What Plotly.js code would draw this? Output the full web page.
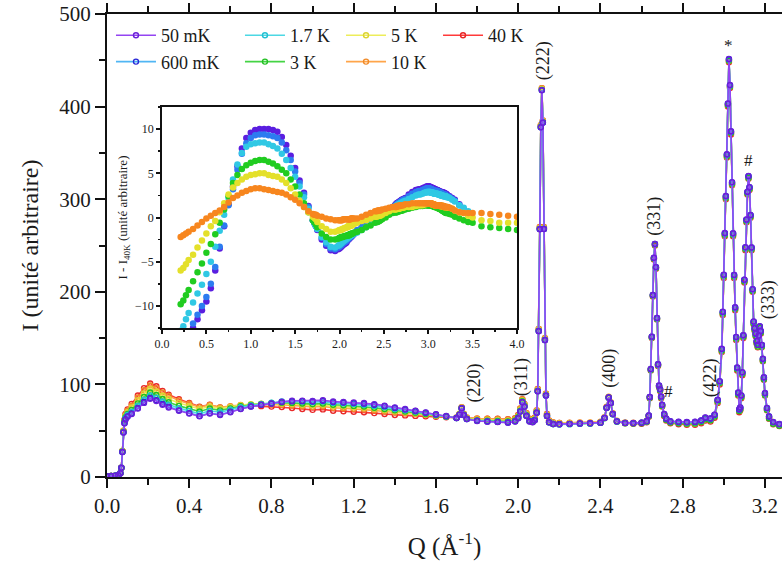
<!DOCTYPE html>
<html><head><meta charset="utf-8">
<script src="https://cdn.plot.ly/plotly-3.0.1.min.js"></script>
<style>html,body{margin:0;padding:0;background:#fff}#chart{width:782px;height:570px}</style>
</head><body><div id="chart"></div>
<script>
// Q grid (Å^-1)
const Q = [0,0.02,0.04,0.055,0.065,0.07,0.075,0.08,0.085,0.09,
0.10,0.12,0.15,0.18,0.21,0.24,0.27,0.30,
0.35,0.40,0.45,0.50,0.55,0.60,0.65,0.70,0.75,
0.80,0.85,0.90,0.95,1.00,1.05,1.10,1.15,1.20,1.25,1.30,1.35,1.40,1.45,1.50,1.55,1.60,1.65,
1.70,1.715,1.725,1.735,1.75,1.80,1.85,1.90,1.95,1.985,
2.00,2.01,2.02,2.03,2.04,2.055,2.07,2.08,2.09,
2.095,2.10,2.105,2.11,2.115,2.12,2.125,2.13,2.135,2.14,2.15,
2.17,2.20,2.25,2.30,2.35,2.40,
2.42,2.43,2.44,2.45,2.46,2.48,
2.52,2.56,2.60,2.625,
2.635,2.64,2.645,2.65,2.655,2.66,2.665,2.67,2.675,2.68,2.685,2.69,2.695,2.70,2.71,2.72,
2.74,2.78,2.82,2.86,2.89,2.91,2.935,2.955,2.97,
2.98,2.99,2.995,3.00,3.005,3.01,3.015,3.02,3.025,3.03,3.035,3.04,3.045,3.05,3.055,3.06,3.065,3.07,3.075,3.08,3.085,3.09,3.095,
3.10,3.105,3.11,3.115,3.12,3.125,3.13,3.135,3.14,3.145,3.15,3.155,3.16,3.165,3.17,3.175,3.18,3.185,3.19,3.195,3.20,3.21,3.22,
3.24,3.27,3.30,3.35,3.40,3.45,
3.50,3.60,3.70,3.80,3.90,4.00];

// Intensity at 40 K (unité arbitraire)
const I40K = [0.5,1,1.5,2,4,10,28,50,62,68,
73,79,88,96,101,98,93,89,
84,80,76,78,75,76,77,77,76.5,
76,75.5,74.5,73.5,72.5,73,71.5,71,70.5,70,69,68,67,66.5,66,65.5,65,64.5,
64,68,75,68,64,63,63,63,62.5,63.5,
67,74,84,79,69,63,62,64,72,
95,160,270,380,420,385,270,150,90,68,61,
59,58.5,58.5,58.5,58.5,59,
64,75,86,80,68,60,
58,57.5,57.5,59,
65,85,115,150,195,235,250,225,170,120,97,93,85,76,66,61,
58,57,56.5,56.5,58,61,60,64,80,
100,135,175,215,260,300,345,400,448,420,370,315,260,215,180,148,115,88,70,72,85,110,150,
210,245,275,305,322,310,280,245,200,165,158,152,144,140,150,160,155,140,125,105,88,72,63,
57,55,54,54,53,53,
52,52,51,51,50,50];

// Differences I - I40K for each temperature (null = no data)
const d50mK = [0,0,0,0,0,0,-1,-2,-4,-6,
-8,-11,-14,-16,-16.5,-16,-15,-14,
-12.5,-11.5,-10.5,-9.5,-8,-6,-3.5,-1,1.5,
3.5,5.8,7.8,9,9.6,9.9,10,10,10,9.9,9.7,9.1,8.2,7,5.6,4.2,2.8,1.3,
-0.3,-0.6,-0.8,-1,-1.4,-2.5,-3.2,-3.7,-3.8,-3.6,
-3.5,-3.4,-3.3,-3.2,-3.1,-3,-2.9,-2.8,-2.6,
-2.5,-2.5,-2.4,-2.4,-2.3,-2.3,-2.2,-2.2,-2.1,-2.1,-2,
-1.8,-1.5,-1.1,-0.8,-0.5,-0.3,
-0.2,-0.1,-0.1,0,0,0.1,
0.4,0.8,1.2,1.4,
1.5,1.5,1.6,1.6,1.6,1.7,1.7,1.7,1.8,1.8,1.8,1.9,1.9,2,2,2.1,
2.2,2.6,2.9,3.1,3.2,3.2,3.3,3.4,3.4,
3.5,3.5,3.5,3.5,3.5,3.5,3.5,3.4,3.4,3.4,3.4,3.4,3.3,3.3,3.3,3.3,3.2,3.2,3.2,3.2,3.1,3.1,3.1,
3.1,3.1,3,3,3,3,2.9,2.9,2.9,2.9,2.9,2.9,2.8,2.8,2.8,2.8,2.8,2.7,2.7,2.7,2.7,2.6,2.5,
2.4,2.2,2,1.5,0.9,0.4,
null,null,null,null,null,null];

const d600mK = [0,0,0,0,0,0,-1,-2,-4,-5.5,
-7.5,-10.5,-13.5,-15,-15.5,-15,-14,-13,
-12,-11,-10,-9,-7.5,-5.6,-3.3,-0.9,1.4,
3.2,5.4,7.2,8.4,9,9.3,9.4,9.4,9.3,9.2,9,8.5,7.6,6.5,5.2,3.9,2.6,1.2,
-0.3,-0.6,-0.8,-1,-1.3,-2.3,-3,-3.5,-3.6,-3.4,
-3.3,-3.2,-3.1,-3,-2.9,-2.8,-2.7,-2.6,-2.5,
-2.4,-2.4,-2.3,-2.3,-2.2,-2.2,-2.1,-2.1,-2,-2,-1.9,
-1.7,-1.4,-1.1,-0.8,-0.5,-0.3,
-0.2,-0.1,-0.1,0,0,0.1,
0.4,0.7,1.1,1.3,
1.4,1.4,1.5,1.5,1.5,1.6,1.6,1.6,1.7,1.7,1.7,1.8,1.8,1.9,1.9,2,
2.1,2.4,2.7,2.9,3,3,3.1,3.2,3.2,
3.3,3.3,3.3,3.3,3.3,3.3,3.3,3.2,3.2,3.2,3.2,3.2,3.1,3.1,3.1,3.1,3,3,3,3,3,3,3,
3,3,2.9,2.9,2.9,2.9,2.8,2.8,2.8,2.8,2.7,2.7,2.7,2.7,2.6,2.6,2.6,2.6,2.6,2.5,2.5,2.4,2.4,
2.3,2.1,1.9,1.4,0.8,0.3,
null,null,null,null,null,null];

const d1p7K = [0,0,0,0,0,0,-1,-1.5,-3,-4.5,
-6,-8.5,-11,-12.5,-12.8,-12.3,-11.5,-10.8,
-9.6,-8.6,-7.6,-6.4,-5,-3.3,-1.5,0.3,2.2,
4.3,6,7.3,8,8.3,8.4,8.5,8.5,8.3,8.1,7.8,7.2,6.5,5.6,4.6,3.5,2.3,1,
-0.3,-0.6,-0.8,-1,-1.3,-2.2,-2.8,-3.3,-3.4,-3.2,
-3.1,-3,-2.9,-2.8,-2.7,-2.6,-2.5,-2.4,-2.3,
-2.3,-2.2,-2.2,-2.2,-2.1,-2.1,-2.1,-2,-2,-2,-1.9,
-1.8,-1.7,-1.4,-1.1,-0.8,-0.5,
-0.4,-0.3,-0.3,-0.2,-0.2,-0.1,
0.3,0.7,1.1,1.2,
1.3,1.3,1.3,1.4,1.4,1.4,1.5,1.5,1.5,1.5,1.6,1.6,1.6,1.7,1.7,1.8,
1.9,2.1,2.3,2.5,2.6,2.6,2.7,2.8,2.8,
2.9,2.9,2.9,2.9,2.9,2.9,2.9,2.9,2.9,2.8,2.8,2.8,2.8,2.8,2.8,2.8,2.7,2.7,2.7,2.7,2.7,2.7,2.7,
2.7,2.7,2.6,2.6,2.6,2.6,2.6,2.6,2.5,2.5,2.5,2.5,2.5,2.5,2.4,2.4,2.4,2.4,2.4,2.4,2.4,2.3,2.3,
2.2,2,1.8,1.4,1.1,0.7,
null,null,null,null,null,null];

const d3K = [0,0,0,0,0,0,-0.5,-1,-2,-3.5,
-5,-6.5,-8.5,-9.5,-9.8,-9.4,-8.8,-8.2,
-7.2,-6.2,-5.2,-4,-3,-1.9,-0.6,0.9,2.4,
3.9,4.8,5.5,5.9,6.2,6.4,6.5,6.5,6.3,6.1,5.8,5.4,5,4.3,3.5,2.6,1.6,0.6,
-0.3,-0.5,-0.6,-0.8,-1.1,-1.8,-2.2,-2.5,-2.5,-2.4,
-2.3,-2.3,-2.2,-2.2,-2.2,-2.1,-2.1,-2.1,-2,
-2,-2,-2,-2,-1.9,-1.9,-1.9,-1.9,-1.8,-1.8,-1.8,
-1.7,-1.6,-1.4,-1.1,-0.9,-0.6,
-0.5,-0.5,-0.4,-0.4,-0.3,-0.2,
0,0.3,0.5,0.6,
0.6,0.6,0.6,0.7,0.7,0.7,0.7,0.7,0.7,0.8,0.8,0.8,0.8,0.8,0.8,0.9,
0.9,1,1.1,1.2,1.3,1.3,1.3,1.4,1.4,
1.4,1.4,1.4,1.4,1.4,1.4,1.4,1.4,1.4,1.4,1.4,1.3,1.3,1.3,1.3,1.3,1.3,1.2,1.2,1.2,1.2,1.2,1.2,
1.1,1.1,1.1,1.1,1,1,1,1,0.9,0.9,0.9,0.8,0.8,0.8,0.7,0.7,0.7,0.6,0.6,0.6,0.5,0.5,0.5,
0.4,0.3,0.1,-0.1,-0.3,-0.5,
-0.6,-1,-1.1,-1.2,-1.3,-1.4];

const d5K = [0,0,0,0,0,0,0,-0.5,-1,-2,
-3,-4,-5,-5.7,-6,-5.7,-5.3,-4.8,
-4.2,-3.4,-2.6,-1.8,-1,-0.4,0.6,1.6,2.6,
3.4,3.9,4.3,4.6,4.8,4.9,5,5,4.8,4.7,4.6,4.3,3.9,3.3,2.6,1.9,1.2,0.6,
0.1,0,-0.1,-0.2,-0.5,-1,-1.3,-1.6,-1.6,-1.5,
-1.4,-1.4,-1.4,-1.3,-1.3,-1.2,-1.2,-1.1,-1.1,
-1,-1,-1,-1,-1,-0.9,-0.9,-0.9,-0.9,-0.9,-0.8,
-0.7,-0.6,-0.4,-0.3,-0.1,0.1,
0.1,0.2,0.2,0.2,0.2,0.3,
0.5,0.7,0.9,0.9,
0.9,1,1,1,1,1,1,1,1,1.1,1.1,1.1,1.1,1.1,1.1,1.1,
1.2,1.2,1.2,1.3,1.4,1.4,1.4,1.5,1.5,
1.6,1.6,1.6,1.6,1.6,1.6,1.6,1.6,1.6,1.6,1.6,1.5,1.5,1.5,1.5,1.5,1.5,1.4,1.4,1.4,1.4,1.4,1.4,
1.4,1.4,1.4,1.4,1.4,1.4,1.3,1.3,1.3,1.3,1.3,1.3,1.3,1.3,1.3,1.2,1.2,1.2,1.2,1.2,1.2,1.2,1.1,
1.1,1,0.8,0.6,0.5,0.2,
0,-0.3,-0.4,-0.6,-0.6,-0.6];

const d10K = [0,0,0,0,0,0,0,0,-0.5,-1,
-1.5,-2,-2.2,-2.3,-2.2,-2,-1.8,-1.6,
-1.3,-0.9,-0.5,-0.1,0.2,0.5,0.8,1.2,1.7,
2.2,2.5,2.8,3,3.2,3.3,3.3,3.2,3.1,3,2.9,2.8,2.6,2.3,2,1.6,1.2,0.7,
0.4,0.3,0.3,0.3,0.2,0.1,-0.1,-0.2,-0.3,-0.3,
-0.3,-0.3,-0.3,-0.3,-0.2,-0.2,-0.2,-0.2,-0.2,
-0.2,-0.2,-0.2,-0.2,-0.2,-0.2,-0.2,-0.1,-0.1,-0.1,-0.1,
-0.1,-0.1,0.1,0.3,0.5,0.7,
0.7,0.8,0.8,0.8,0.8,0.9,
1,1.1,1.2,1.2,
1.2,1.2,1.3,1.3,1.3,1.3,1.3,1.3,1.3,1.3,1.4,1.4,1.4,1.4,1.4,1.4,
1.5,1.5,1.6,1.6,1.6,1.6,1.6,1.6,1.6,
1.6,1.6,1.6,1.6,1.6,1.6,1.6,1.6,1.6,1.6,1.6,1.5,1.5,1.5,1.5,1.5,1.5,1.4,1.4,1.4,1.4,1.4,1.4,
1.4,1.4,1.4,1.4,1.4,1.4,1.4,1.4,1.3,1.3,1.3,1.3,1.3,1.3,1.3,1.3,1.2,1.2,1.2,1.2,1.2,1.2,1.2,
1.1,1,0.8,0.6,0.5,0.5,
0.5,0.5,0.4,0.3,0.2,0.1];

// Peak labels
const peakLabels = ['(220)','(311)','(222)','(400)','(331)','#','(422)','*','#','(333)'];
const peakLabelQ = [1.785,2.02,2.12,2.447,2.665,2.73,2.935,3.025,3.122,3.215];
const peakLabelI = [101,108,450,117,282,92,107,466,342,191];
const peakLabelAngle = [-90,-90,-90,-90,-90,0,-90,0,0,-90];

const FONT = "Times New Roman, Liberation Serif, DejaVu Serif, serif";
const series = [
  {name:'40 K',  d:null,  line:'#ff3a3a', mk:'#e82828', inset:null,      legend:'legend4', rank:7},
  {name:'10 K',  d:d10K,  line:'#ffa54a', mk:'#f08a28', inset:'#f7861e', legend:'legend3', rank:6},
  {name:'5 K',   d:d5K,   line:'#eded5a', mk:'#dcd432', inset:'#e4e02a', legend:'legend3', rank:5},
  {name:'3 K',   d:d3K,   line:'#44d444', mk:'#22bf22', inset:'#20cc20', legend:'legend2', rank:4},
  {name:'1.7 K', d:d1p7K, line:'#4cd8e4', mk:'#22c0d2', inset:'#30c8e4', legend:'legend2', rank:3},
  {name:'600 mK',d:d600mK,line:'#50b6f4', mk:'#2626d6', inset:'#2c7cf0', legend:'legend',  rank:2},
  {name:'50 mK', d:d50mK, line:'#9444f2', mk:'#6a20d8', inset:'#5a1ee0', legend:'legend',  rank:1}
];

const msgs = [];
[I40K,d50mK,d600mK,d1p7K,d3K,d5K,d10K].forEach((a,k)=>{ if(a.length!==Q.length) msgs.push('len mismatch '+k+': '+a.length+' vs '+Q.length); });

const traces = [];
series.forEach(s=>{
  const y = I40K.map((v,i)=> s.d ? (s.d[i]===null ? null : v + s.d[i]) : v);
  traces.push({
    type:'scatter', mode:'lines+markers', name:s.name, x:Q, y:y,
    legend:s.legend, legendrank:s.rank, legendgroup:s.name,
    line:{color:s.line, width:1.6},
    marker:{symbol:'circle-open', size:5, color:s.mk, line:{width:1.4, color:s.mk}},
    xaxis:'x', yaxis:'y', cliponaxis:true
  });
});
// inset: differences, drawn so that 10 K ends on top
series.slice().reverse().forEach(s=>{
  if(!s.d) return;
  const xs=[], ys=[];
  Q.forEach((q,i)=>{ if(q>=0.2 && s.d[i]!==null){ xs.push(q); ys.push(s.d[i]); } });
  traces.push({
    type:'scatter', mode:'markers', x:xs, y:ys, showlegend:false, hoverinfo:'skip',
    marker:{symbol:'circle', size:6.5, color:s.inset},
    xaxis:'x2', yaxis:'y2'
  });
});

const annotations = peakLabels.map((t,i)=>({
  text:t, x:peakLabelQ[i], y:peakLabelI[i], xref:'x', yref:'y', showarrow:false,
  textangle:peakLabelAngle[i], font:{family:FONT, size:t.length>1?18:17, color:'#1a1a1a'}
}));
msgs.forEach((m,i)=>annotations.push({text:m,xref:'paper',yref:'paper',x:0.5,y:0.5-i*0.05,showarrow:false,font:{color:'red',size:14}}));

const axBase = {showline:true, linecolor:'#111', linewidth:2, showgrid:false, zeroline:false,
  ticks:'outside', tickcolor:'#111', tickwidth:2};
const lg = (x)=>({x:x, y:0.9935, xref:'paper', yref:'paper', xanchor:'left', yanchor:'top',
  orientation:'v', bgcolor:'rgba(0,0,0,0)', borderwidth:0, font:{family:FONT, size:18, color:'#1a1a1a'},
  itemwidth:40, tracegroupgap:1, traceorder:'normal'});

const layout = {
  width:782, height:570, margin:{l:107, r:0, t:14, b:93},
  paper_bgcolor:'#ffffff', plot_bgcolor:'rgba(0,0,0,0)',
  font:{family:FONT, color:'#1a1a1a'},
  showlegend:true,
  xaxis:Object.assign({}, axBase, {
    range:[0,3.283], tick0:0, dtick:0.4, tickformat:'.1f', ticklen:9, mirror:'ticks',
    minor:{dtick:0.2, ticks:'outside', ticklen:6, tickwidth:2, tickcolor:'#111'},
    tickfont:{family:FONT, size:21, color:'#1a1a1a'},
    title:{text:'Q (Å<sup>-1</sup>)', font:{family:FONT, size:25, color:'#1a1a1a'}, standoff:20}
  }),
  yaxis:Object.assign({}, axBase, {
    range:[0,500], tick0:0, dtick:100, ticklen:10,
    minor:{dtick:50, ticks:'outside', ticklen:6, tickwidth:2, tickcolor:'#111'},
    tickfont:{family:FONT, size:21, color:'#1a1a1a'},
    title:{text:'I (unité arbitraire)', font:{family:FONT, size:24, color:'#1a1a1a'}, standoff:14}
  }),
  xaxis2:Object.assign({}, axBase, {
    domain:[0.0815,0.6074], anchor:'y2', range:[0,4], tick0:0, dtick:0.5, tickformat:'.1f',
    ticklen:4, linewidth:1.8, mirror:true,
    minor:{dtick:0.25, ticks:'outside', ticklen:2, tickwidth:1.5, tickcolor:'#111'},
    tickfont:{family:FONT, size:12, color:'#1a1a1a'}
  }),
  yaxis2:Object.assign({}, axBase, {
    domain:[0.3218,0.7991], anchor:'x2', range:[-12.5,12.5], tick0:0, dtick:5,
    ticklen:4, linewidth:1.8, mirror:true,
    minor:{dtick:2.5, ticks:'outside', ticklen:2, tickwidth:1.5, tickcolor:'#111'},
    tickfont:{family:FONT, size:12, color:'#1a1a1a'},
    title:{text:'I - I<sub>40K</sub> (unité arbitraire)', font:{family:FONT, size:13, color:'#1a1a1a'}, standoff:4}
  }),
  legend:lg(0.0059), legend2:lg(0.197), legend3:lg(0.3467), legend4:lg(0.4904),
  annotations:annotations
};

Plotly.newPlot('chart', traces, layout, {displayModeBar:false, staticPlot:true});
</script>
</body></html>
